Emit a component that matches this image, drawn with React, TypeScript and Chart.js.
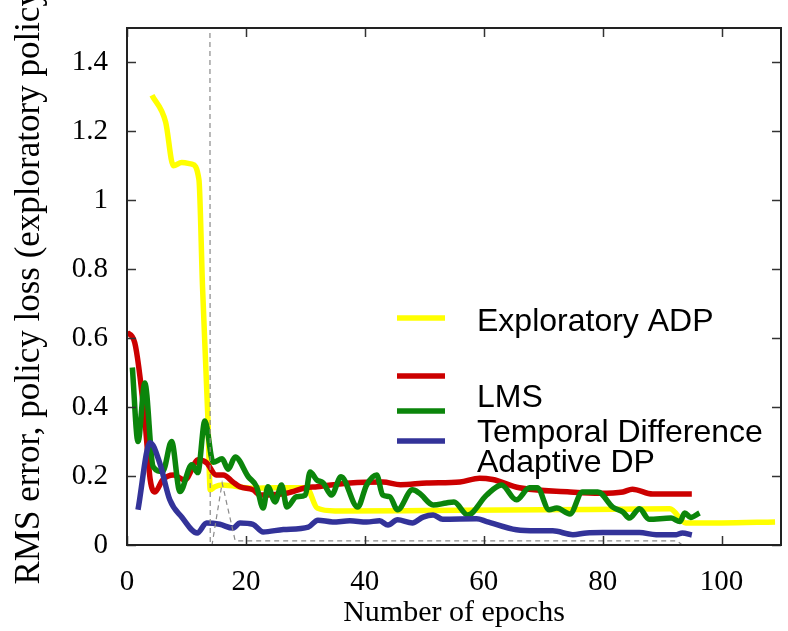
import React, { useEffect, useRef } from "react";
import { Chart, registerables } from "chart.js";

Chart.register(...registerables);

// ---- data ----
const X_TICKS = [0, 20, 40, 60, 80, 100];
const Y_TICKS = [0, 0.2, 0.4, 0.6, 0.8, 1, 1.2, 1.4];
const SERIES_LABELS = ["Exploratory ADP", "LMS", "Temporal Difference", "Adaptive DP"];
const X_TITLE = "Number of epochs";
const Y_TITLE = "RMS error, policy loss (exploratory policy)";

const EXPL_X = [4.2, 6.5, 7.8, 9.2, 10.9, 12.1, 12.7, 13.6, 14.0, 14.8, 16, 21, 25, 30.2, 32, 35, 50, 70, 91.3, 94, 100, 109];
const EXPL_Y = [1.305, 1.227, 1.1, 1.11, 1.105, 1.06, 0.75, 0.37, 0.16, 0.169, 0.174, 0.165, 0.166, 0.166, 0.107, 0.099, 0.1, 0.102, 0.105, 0.064, 0.064, 0.067];

const LMS_X = [0, 1.3, 3, 3.9, 4.7, 6, 7.8, 9.7, 12, 13.4, 15, 16.2, 17.8, 19, 21.2, 22.4, 27, 30, 32, 37.5, 43, 46, 50.4, 56, 59.3, 61.5, 66, 74.5, 79.5, 83.4, 85, 88.4, 95];
const LMS_Y = [0.617, 0.587, 0.363, 0.19, 0.154, 0.189, 0.203, 0.189, 0.247, 0.238, 0.203, 0.203, 0.183, 0.169, 0.16, 0.145, 0.151, 0.166, 0.169, 0.18, 0.183, 0.175, 0.18, 0.183, 0.194, 0.19, 0.166, 0.154, 0.15, 0.154, 0.162, 0.148, 0.148];

const TD_X = [0.9, 1.85, 3, 4.4, 6, 7.5, 8.9, 10.9, 11.9, 13.1, 14.5, 16, 17, 18.2, 20.4, 21.8, 22.9, 23.7, 24.9, 26, 26.9, 28.5, 30, 30.8, 31.9, 33, 34.4, 36, 38.8, 40.3, 42, 43, 44.2, 45.5, 48, 49.2, 51.5, 53.7, 55, 57.3, 60.5, 63, 65.5, 67.7, 69, 71, 72.3, 74.5, 76.6, 79.2, 81.7, 83.4, 84.5, 86.2, 87.8, 91.5, 93, 93.8, 94.8, 96.3];
const TD_Y = [0.515, 0.3, 0.47, 0.227, 0.213, 0.3, 0.155, 0.233, 0.21, 0.36, 0.24, 0.25, 0.22, 0.255, 0.198, 0.169, 0.107, 0.169, 0.125, 0.174, 0.11, 0.14, 0.145, 0.212, 0.189, 0.18, 0.145, 0.198, 0.11, 0.174, 0.203, 0.145, 0.14, 0.102, 0.16, 0.15, 0.116, 0.122, 0.125, 0.087, 0.145, 0.174, 0.131, 0.166, 0.166, 0.102, 0.107, 0.09, 0.154, 0.154, 0.11, 0.096, 0.078, 0.105, 0.075, 0.078, 0.068, 0.093, 0.08, 0.093];

const ADP_X = [1.85, 3.9, 5.5, 7.2, 9.2, 11.8, 13.4, 15.6, 17.8, 19, 21.2, 22.9, 26.3, 30.5, 32.1, 34.6, 37.5, 40.3, 42.5, 43.9, 45.5, 48, 49.8, 51.5, 53.1, 58.8, 60.5, 65.5, 68.9, 71.6, 75, 77.3, 80, 86.2, 89, 92.4, 93.4, 95];
const ADP_Y = [0.102, 0.297, 0.238, 0.131, 0.081, 0.035, 0.064, 0.06, 0.049, 0.064, 0.06, 0.038, 0.045, 0.052, 0.072, 0.067, 0.07, 0.067, 0.07, 0.058, 0.073, 0.064, 0.081, 0.087, 0.075, 0.076, 0.068, 0.044, 0.041, 0.041, 0.03, 0.035, 0.036, 0.036, 0.03, 0.03, 0.035, 0.029];

const LOSS_X = [13.9, 14.0, 14.3, 16, 18.2, 92.5, 93.4];
const LOSS_Y = [3, 0, 0, 0.18, 0.012, 0.012, 0];

const zip = (xs: number[], ys: number[]) => xs.map((x, i) => ({ x, y: ys[i] }));

const SERIF = '"Liberation Serif", "DejaVu Serif", "Times New Roman", serif';
const SANS = '"Liberation Sans", Arial, "DejaVu Sans", sans-serif';

const COLORS = ["#ffff00", "#cc0000", "#0b850b", "#333399"];

const framePlugin = {
  id: "frameTicks",
  afterDatasetsDraw(chart: any) {
    const { ctx, chartArea: a, scales } = chart;
    ctx.save();
    ctx.strokeStyle = "#333";
    ctx.lineWidth = 1.5;
    const seg = (x1: number, y1: number, x2: number, y2: number) => {
      ctx.beginPath();
      ctx.moveTo(x1, y1);
      ctx.lineTo(x2, y2);
      ctx.stroke();
    };
    X_TICKS.forEach((v) => {
      const px = Math.round(scales.x.getPixelForValue(v)) + 0.5;
      seg(px, a.bottom, px, a.bottom - 9);
      seg(px, a.top, px, a.top + 9);
    });
    Y_TICKS.forEach((v) => {
      const py = Math.round(scales.y.getPixelForValue(v)) + 0.5;
      seg(a.left, py, a.left + 9, py);
      seg(a.right, py, a.right - 9, py);
    });
    ctx.lineWidth = 2;
    ctx.strokeStyle = "#222";
    ctx.strokeRect(a.left, a.top, a.right - a.left, a.bottom - a.top);
    ctx.restore();
  },
};

const labelsPlugin = {
  id: "customLegendAndTitle",
  afterDraw(chart: any) {
    const { ctx } = chart;
    const lineY = [318, 376, 411, 441];
    const textY = [331, 407, 442, 472];
    ctx.save();
    ctx.lineWidth = 5.5;
    SERIES_LABELS.forEach((label, i) => {
      ctx.strokeStyle = COLORS[i];
      ctx.beginPath();
      ctx.moveTo(397, lineY[i]);
      ctx.lineTo(445, lineY[i]);
      ctx.stroke();
      ctx.fillStyle = "#000";
      ctx.font = `32px ${SANS}`;
      ctx.textAlign = "left";
      ctx.textBaseline = "alphabetic";
      ctx.fillText(label, 477, textY[i]);
    });
    // rotated y-axis title
    ctx.translate(30, 281);
    ctx.rotate(-Math.PI / 2);
    ctx.font = `35px ${SERIF}`;
    ctx.textAlign = "center";
    ctx.textBaseline = "middle";
    ctx.fillText(Y_TITLE, 0, 0);
    ctx.restore();
  },
};

export default function App() {
  const ref = useRef<HTMLCanvasElement>(null);
  useEffect(() => {
    if (!ref.current) return;
    const lineDs = (i: number, xs: number[], ys: number[], order: number) => ({
      label: SERIES_LABELS[i],
      data: zip(xs, ys),
      borderColor: COLORS[i],
      backgroundColor: COLORS[i],
      borderWidth: 5.5,
      pointRadius: 0,
      tension: 0.35,
      cubicInterpolationMode: "monotone" as const,
      fill: false,
      order,
    });
    const chart = new Chart(ref.current, {
      type: "line",
      data: {
        datasets: [
          lineDs(0, EXPL_X, EXPL_Y, 4),
          lineDs(1, LMS_X, LMS_Y, 3),
          lineDs(2, TD_X, TD_Y, 2),
          lineDs(3, ADP_X, ADP_Y, 1),
          {
            label: "policy loss",
            data: zip(LOSS_X, LOSS_Y),
            borderColor: "#8a8a8a",
            borderWidth: 1.2,
            borderDash: [5, 4],
            pointRadius: 0,
            tension: 0,
            fill: false,
            order: 0,
          },
        ],
      },
      options: {
        animation: false,
        responsive: false,
        maintainAspectRatio: false,
        layout: { padding: { top: 28, right: 7, left: 0, bottom: 0 } },
        plugins: { legend: { display: false }, tooltip: { enabled: false } },
        scales: {
          x: {
            type: "linear",
            min: 0,
            max: 110,
            afterBuildTicks: (s: any) => {
              s.ticks = X_TICKS.map((v) => ({ value: v }));
            },
            afterFit: (s: any) => {
              s.height = 86;
              s.paddingLeft = 0;
              s.paddingRight = 0;
            },
            grid: { display: false, drawTicks: false },
            border: { display: false },
            ticks: {
              padding: 20,
              color: "#000",
              font: { family: SERIF, size: 29 },
              maxRotation: 0,
              autoSkip: false,
              callback: (v: any) => String(v),
            },
            title: {
              display: true,
              text: X_TITLE,
              color: "#000",
              font: { family: SERIF, size: 30 },
              padding: { top: 0, bottom: 0 },
            },
          },
          y: {
            type: "linear",
            min: 0,
            max: 1.5,
            afterBuildTicks: (s: any) => {
              s.ticks = Y_TICKS.map((v) => ({ value: v }));
            },
            afterFit: (s: any) => {
              s.width = 127;
              s.paddingTop = 0;
              s.paddingBottom = 0;
            },
            grid: { display: false, drawTicks: false },
            border: { display: false },
            ticks: {
              padding: 19,
              color: "#000",
              font: { family: SERIF, size: 29 },
              autoSkip: false,
              callback: (v: any) => String(Math.round(Number(v) * 10) / 10),
            },
            title: { display: false },
          },
        },
      },
      plugins: [framePlugin, labelsPlugin],
    });
    return () => chart.destroy();
  }, []);
  return (
    <div style={{ position: "absolute", left: 0, top: 0, width: 788, height: 631, background: "#fff" }}>
      <canvas ref={ref} width={788} height={631} />
    </div>
  );
}
